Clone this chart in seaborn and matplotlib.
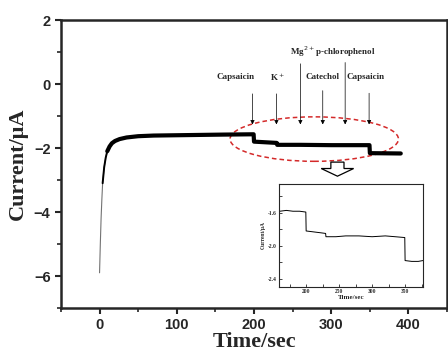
import numpy as np
import pandas as pd
import matplotlib
matplotlib.use("Agg")
import matplotlib.pyplot as plt
from matplotlib.patches import Ellipse, FancyArrow
import seaborn as sns

# main trace
time = [0, 1, 2, 3, 4, 6, 8, 10, 13, 16, 20, 26, 35, 50, 70, 100, 130, 160,
        199.5, 200, 229.5, 230, 260, 300, 349.5, 350, 390]
current = [-5.9, -5.0, -4.2, -3.6, -3.1, -2.6, -2.3, -2.1, -1.95, -1.85, -1.78,
           -1.72, -1.67, -1.63, -1.61, -1.60, -1.59, -1.58, -1.57, -1.80, -1.84,
           -1.90, -1.90, -1.91, -1.91, -2.16, -2.17]

# inset trace
time_in = [160, 170, 180, 190, 199.5, 200, 210, 220, 229.5, 230, 245, 260, 280,
           300, 320, 335, 349.5, 350, 360, 370, 377]
current_in = [-1.58, -1.57, -1.58, -1.58, -1.59, -1.82, -1.83, -1.84, -1.85,
              -1.89, -1.89, -1.88, -1.88, -1.89, -1.88, -1.89, -1.90, -2.18,
              -2.19, -2.19, -2.18]

# additions
add_times = [198, 229, 260, 289, 318, 349]
arrow_tails = [-0.22, -0.22, 0.72, -0.12, 0.76, -0.20]

sns.set_style("ticks")
serif = ["Liberation Serif", "DejaVu Serif"]
sans = ["Liberation Sans", "DejaVu Sans"]

fig = plt.figure(figsize=(4.48, 3.52), dpi=100)
ax = fig.add_axes([0.136, 0.125, 0.862, 0.818])

df = pd.DataFrame({"t": time, "i": current})
sns.lineplot(data=df, x="t", y="i", ax=ax, color="0.45", lw=0.8, estimator=None, sort=False)
sns.lineplot(data=df[df.t >= 4], x="t", y="i", ax=ax, color="k", lw=1.4, estimator=None, sort=False)
sns.lineplot(data=df[df.t >= 10], x="t", y="i", ax=ax, color="k", lw=3, estimator=None, sort=False)

ax.set_xlim(-50, 450)
ax.set_ylim(-7, 2)
ax.set_xticks([0, 100, 200, 300, 400])
ax.set_xticks(np.arange(-50, 451, 50), minor=True)
ax.set_yticks([2, 0, -2, -4, -6])
ax.set_yticks(np.arange(-7, 2.1, 1), minor=True)
ax.tick_params(which="major", direction="out", length=4, width=1.5, labelsize=10.5)
ax.tick_params(which="minor", direction="out", length=3, width=1.2)
for lab in ax.get_xticklabels() + ax.get_yticklabels():
    lab.set_family(sans)
    lab.set_fontweight("bold")
for s in ax.spines.values():
    s.set_linewidth(1.8)
    s.set_visible(True)
ax.set_xlabel("Time/sec", family=serif, fontweight="bold", fontsize=16, labelpad=0)
ax.set_ylabel("Current/\u03bcA", family=serif, fontweight="bold", fontsize=16, labelpad=4)

# arrows
for t, tail in zip(add_times, arrow_tails):
    ax.annotate("", xy=(t, -1.35), xytext=(t, tail),
                arrowprops=dict(arrowstyle="-|>", lw=0.5, color="k", mutation_scale=6))
txt = dict(family=serif, fontweight="bold", fontsize=6.5, ha="center", va="center")
ax.text(176, 0.22, "Capsaicin", **txt)
ax.text(230, 0.22, "K$^+$", **txt)
ax.text(289, 0.22, "Catechol", **txt)
ax.text(345, 0.22, "Capsaicin", **txt)
ax.text(302, 1.0, "Mg$^{2+}$p-chlorophenol", **txt)

ax.add_patch(Ellipse((278, -1.72), 218, 1.39, fill=False, ec="#d42a2a", ls=(0, (3, 2)), lw=1.1))
ax.add_patch(FancyArrow(308, -2.44, 0, -0.44, width=17, head_width=42, head_length=0.24,
                        length_includes_head=True, fc="white", ec="k", lw=0.9))

# inset
ins = fig.add_axes([0.623, 0.185, 0.321, 0.292])
dfi = pd.DataFrame({"t": time_in, "i": current_in})
sns.lineplot(data=dfi, x="t", y="i", ax=ins, color="k", lw=0.7, estimator=None, sort=False)
ins.set_xlim(159, 377)
ins.set_ylim(-2.5, -1.25)
ins.set_xticks([200, 250, 300, 350])
ins.set_xticks(np.arange(175, 377, 25), minor=True)
ins.set_yticks([-1.6, -2.0, -2.4])
ins.set_yticks([-1.4, -1.8, -2.2], minor=True)
ins.set_yticklabels(["-1.6", "-2.0", "-2.4"])
ins.tick_params(which="both", direction="in", length=2, width=0.6, labelsize=4, pad=1.5)
for lab in ins.get_xticklabels() + ins.get_yticklabels():
    lab.set_family(serif)
    lab.set_fontweight("bold")
for s in ins.spines.values():
    s.set_linewidth(0.8)
    s.set_visible(True)
ins.set_xlabel("Time/sec", family=serif, fontweight="bold", fontsize=5, labelpad=0.5)
ins.set_ylabel("Current/\u03bcA", family=serif, fontweight="bold", fontsize=4, labelpad=2)

fig.savefig("out.png", dpi=100)
